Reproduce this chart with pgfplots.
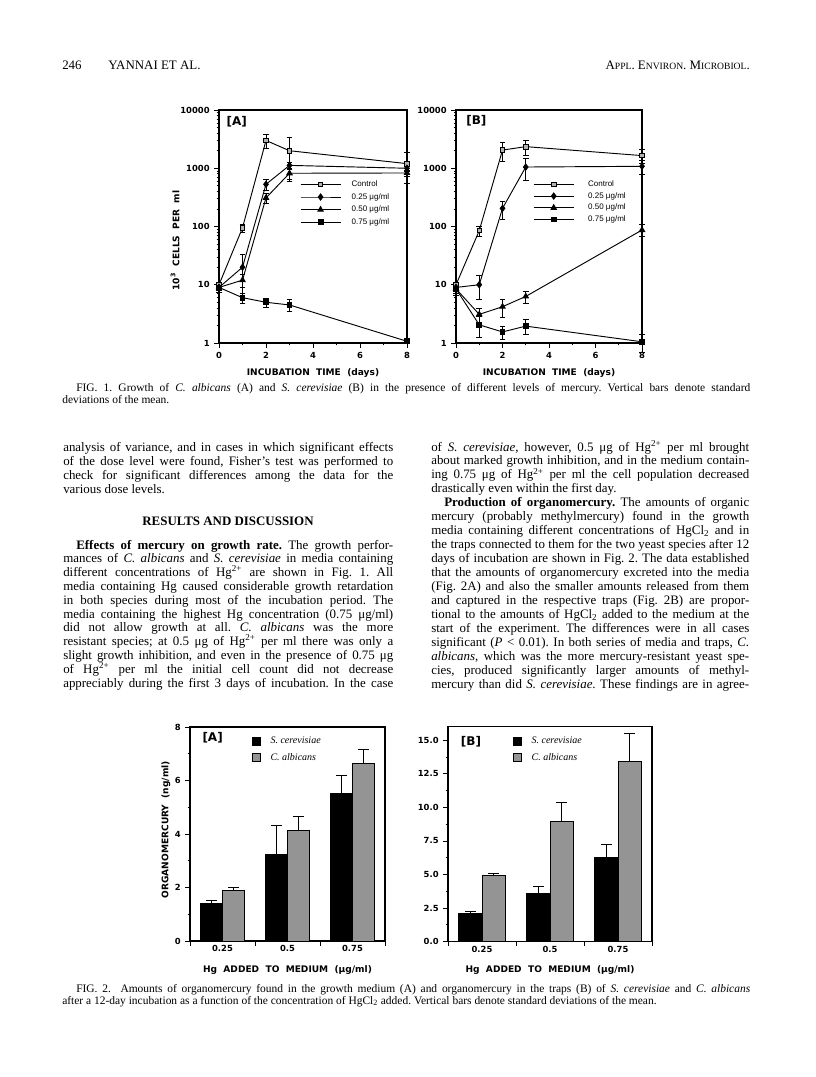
\documentclass[border=0pt]{standalone}
\usepackage{fontspec}
\setmainfont{Liberation Serif}
\newfontfamily\figsans{DejaVu Sans}
\newfontfamily\legsans{Liberation Sans}
\usepackage{pgfplots}
\pgfplotsset{compat=1.18}

\newcommand\bodyfont{\fontsize{9.7}{11}\selectfont\frenchspacing}
\newcommand\capfont{\fontsize{8.6}{10}\selectfont\frenchspacing}
\newcommand\tickfont{\figsans\bfseries\fontsize{6.3}{7}\selectfont}
\newcommand\labfont{\figsans\bfseries\fontsize{6.8}{8}\selectfont}
\newcommand\smc[1]{{\fontsize{7.2}{8}\selectfont #1}}

% one justified line of body text: left column, indented left, right column
\newcommand\LJ[2]{\node[body] at (63,#1) {\makebox[247.5pt][s]{#2}};}
\newcommand\LJi[2]{\node[body] at (76,#1) {\makebox[237.75pt][s]{#2}};}
\newcommand\RJ[2]{\node[body] at (431,#1) {\makebox[238.5pt][s]{#2}};}
\newcommand\RJi[2]{\node[body] at (444,#1) {\makebox[228.75pt][s]{#2}};}

\begin{document}
\begin{tikzpicture}
\fill[white] (0,0) rectangle (612pt,-807.75pt);
\path[use as bounding box] (0,0) rectangle (612pt,-807.75pt);

% ---------- FIG. 1A: C. albicans
\begin{axis}[at={(164.25pt,-257.25pt)}, anchor=south west,
  scale only axis, width=141pt, height=174.75pt,
  ymode=log, ymin=1, ymax=10000, xmin=0, xmax=8,
  axis line style={line width=0.8pt},
  xtick pos=bottom, ytick pos=left,
  tick align=outside, major tick length=3.5pt, minor tick length=1.8pt,
  tick style={black, line width=0.6pt},
  xtick={0,2,4,6,8}, xticklabels={0,2,4,6,8}, minor xtick={1,3,5,7},
  ytick={1,10,100,1000,10000}, yticklabels={1,10,100,1000,10000},
  minor ytick={2,3,4,5,6,7,8,9,20,30,40,50,60,70,80,90,200,300,400,500,600,700,800,900,2000,3000,4000,5000,6000,7000,8000,9000},
  ticklabel style={font=\tickfont},
  clip=false,
  legend image code/.code={\draw[mark repeat=2,mark phase=2,#1] plot coordinates {(0pt,0pt) (15pt,0pt) (30pt,0pt)};},
  legend cell align=left,
  legend style={at={(0.43,0.705)}, anchor=north west, draw=none, fill=none,
    inner sep=0pt, row sep=1.5pt, font=\legsans\fontsize{6}{7}\selectfont,
    nodes={inner ysep=1pt, text height=4.5pt, text depth=1.5pt},
    /tikz/every odd column/.append style={column sep=6pt}}]
\addplot[black, line width=0.7pt, mark=square*, mark size=1.7pt, mark options={fill=black!30, line width=0.6pt},
  error bars/.cd, y dir=both, y explicit, error bar style={black, line width=0.6pt}, error mark options={rotate=90, black, line width=0.6pt, mark size=2.2pt}]
  coordinates {(0,10) +- (0,1) (1,95) +- (0,15) (2,3000) +- (0,800) (3,2000) +- (0,1400) (8,1200) +- (0,650)};
\addplot[black, line width=0.7pt, mark=diamond*, mark size=2.3pt,
  error bars/.cd, y dir=both, y explicit, error bar style={black, line width=0.6pt}, error mark options={rotate=90, black, line width=0.6pt, mark size=2.2pt}]
  coordinates {(0,9) +- (0,1) (1,20) +- (0,13) (2,530) +- (0,120) (3,1120) +- (0,150) (8,1000) +- (0,100)};
\addplot[black, line width=0.7pt, mark=triangle*, mark size=2.3pt,
  error bars/.cd, y dir=both, y explicit, error bar style={black, line width=0.6pt}, error mark options={rotate=90, black, line width=0.6pt, mark size=2.2pt}]
  coordinates {(0,9) +- (0,1.5) (1,12) +- (0,3) (2,310) +- (0,60) (3,820) +- (0,180) (8,830) +- (0,100)};
\addplot[black, line width=0.7pt, mark=square*, mark size=1.8pt,
  error bars/.cd, y dir=both, y explicit, error bar style={black, line width=0.6pt}, error mark options={rotate=90, black, line width=0.6pt, mark size=2.2pt}]
  coordinates {(0,9) +- (0,1) (1,6) +- (0,1.2) (2,5) +- (0,0.9) (3,4.5) +- (0,1) (8,1.07) +- (0,0.05)};
\legend{Control,0.25 μg/ml,0.50 μg/ml,0.75 μg/ml}
\node[anchor=west, font=\figsans\bfseries\fontsize{9}{10}\selectfont] at (rel axis cs:0.015,0.948) {[A]};
\node[rotate=90, font=\labfont] at (rel axis cs:-0.234,0.44) {10\textsuperscript{3}\ \ CELLS\ \ PER\ \ ml};
\node[font=\labfont, yshift=-22.5pt] at (rel axis cs:0.5,0) {INCUBATION\ \ TIME\ \ (days)};
\end{axis}

% ---------- FIG. 1B: S. cerevisiae
\begin{axis}[at={(342pt,-257.25pt)}, anchor=south west,
  scale only axis, width=139.5pt, height=174.75pt,
  ymode=log, ymin=1, ymax=10000, xmin=0, xmax=8,
  axis line style={line width=0.8pt},
  xtick pos=bottom, ytick pos=left,
  tick align=outside, major tick length=3.5pt, minor tick length=1.8pt,
  tick style={black, line width=0.6pt},
  xtick={0,2,4,6,8}, xticklabels={0,2,4,6,8}, minor xtick={1,3,5,7},
  ytick={1,10,100,1000,10000}, yticklabels={1,10,100,1000,10000},
  minor ytick={2,3,4,5,6,7,8,9,20,30,40,50,60,70,80,90,200,300,400,500,600,700,800,900,2000,3000,4000,5000,6000,7000,8000,9000},
  ticklabel style={font=\tickfont},
  clip=false,
  legend image code/.code={\draw[mark repeat=2,mark phase=2,#1] plot coordinates {(0pt,0pt) (15pt,0pt) (30pt,0pt)};},
  legend cell align=left,
  legend style={at={(0.414,0.705)}, anchor=north west, draw=none, fill=none,
    inner sep=0pt, row sep=0.8pt, font=\legsans\fontsize{6}{7}\selectfont,
    nodes={inner ysep=1pt, text height=4.5pt, text depth=1.5pt},
    /tikz/every odd column/.append style={column sep=8.5pt}}]
\addplot[black, line width=0.7pt, mark=square*, mark size=1.7pt, mark options={fill=black!30, line width=0.6pt},
  error bars/.cd, y dir=both, y explicit, error bar style={black, line width=0.6pt}, error mark options={rotate=90, black, line width=0.6pt, mark size=2.2pt}]
  coordinates {(0,10) +- (0,1) (1,85) +- (0,17) (2,2050) +- (0,750) (3,2350) +- (0,700) (8,1650) +- (0,420)};
\addplot[black, line width=0.7pt, mark=diamond*, mark size=2.3pt,
  error bars/.cd, y dir=both, y explicit, error bar style={black, line width=0.6pt}, error mark options={rotate=90, black, line width=0.6pt, mark size=2.2pt}]
  coordinates {(0,9) +- (0,1) (1,10) +- (0,4.5) (2,205) +- (0,70) (3,1050) +- (0,430) (8,1080) +- (0,300)};
\addplot[black, line width=0.7pt, mark=triangle*, mark size=2.3pt,
  error bars/.cd, y dir=both, y explicit, error bar style={black, line width=0.6pt}, error mark options={rotate=90, black, line width=0.6pt, mark size=2.2pt}]
  coordinates {(0,8.5) +- (0,1.5) (1,3.1) +- (0,0.8) (2,4.2) +- (0,1.5) (3,6.3) +- (0,1.5) (8,87) +- (0,20)};
\addplot[black, line width=0.7pt, mark=square*, mark size=1.8pt,
  error bars/.cd, y dir=both, y explicit, error bar style={black, line width=0.6pt}, error mark options={rotate=90, black, line width=0.6pt, mark size=2.2pt}]
  coordinates {(0,8.5) +- (0,2) (1,2.05) +- (0,0.8) (2,1.55) +- (0,0.4) (3,1.95) +- (0,0.55) (8,1.05) +- (0,0.35)};
\legend{Control,0.25 μg/ml,0.50 μg/ml,0.75 μg/ml}
\node[anchor=west, font=\figsans\bfseries\fontsize{9}{10}\selectfont] at (rel axis cs:0.03,0.953) {[B]};
\node[font=\labfont, yshift=-22.5pt] at (rel axis cs:0.5,0) {INCUBATION\ \ TIME\ \ (days)};
\end{axis}

% ---------- FIG. 2A: organomercury in the growth medium
\begin{axis}[at={(142.5pt,-705.75pt)}, anchor=south west,
  scale only axis, width=146.25pt, height=160.5pt,
  xmin=0.5, xmax=3.5, ymin=0, ymax=8,
  ybar=0pt, bar width=0.345,
  axis line style={line width=0.8pt},
  tick align=outside, xtick pos=bottom, ytick pos=left,
  major tick length=3.5pt, minor tick length=1.8pt,
  tick style={black, line width=0.6pt},
  xtick={0.5,1.5,2.5,3.5}, xticklabels={},
  extra x ticks={1,2,3}, extra x tick labels={0.25,0.5,0.75},
  extra x tick style={major tick length=0pt},
  ytick={0,2,4,6,8}, yticklabels={0,2,4,6,8}, minor ytick={1,3,5,7},
  ticklabel style={font=\tickfont},
  clip=false,
  legend cell align=left,
  legend style={at={(0.318,0.963)}, anchor=north west, draw=none, fill=none,
    inner sep=0pt, row sep=3.5pt, font=\itshape\fontsize{7.5}{8}\selectfont,
    nodes={inner ysep=1pt, text height=5.5pt, text depth=1.5pt},
    /tikz/every odd column/.append style={column sep=5pt}}]
\addplot[fill=black, draw=black, line width=0.7pt,
  legend image code/.code={\filldraw[fill=black, draw=black] (0pt,-3pt) rectangle (6pt,3pt);},
  error bars/.cd, y dir=plus, y explicit, error bar style={black, line width=0.7pt}, error mark options={rotate=90, black, line width=0.7pt, mark size=4pt}]
  coordinates {(1,1.4) +- (0,0.13) (2,3.25) +- (0,1.08) (3,5.5) +- (0,0.69)};
\addplot[fill=black!42, draw=black, line width=0.7pt,
  legend image code/.code={\filldraw[fill=black!42, draw=black, line width=0.6pt] (0pt,-3pt) rectangle (6pt,3pt);},
  error bars/.cd, y dir=plus, y explicit, error bar style={black, line width=0.7pt}, error mark options={rotate=90, black, line width=0.7pt, mark size=4pt}]
  coordinates {(1,1.9) +- (0,0.1) (2,4.15) +- (0,0.52) (3,6.65) +- (0,0.52)};
\legend{S. cerevisiae,C. albicans}
\node[anchor=west, font=\figsans\bfseries\fontsize{9}{10}\selectfont] at (rel axis cs:0.04,0.949) {[A]};
\node[rotate=90, font=\labfont] at (rel axis cs:-0.123,0.52) {ORGANOMERCURY\ \ (ng/ml)};
\node[font=\labfont, yshift=-21.75pt] at (rel axis cs:0.5,0) {Hg\ \ ADDED\ \ TO\ \ MEDIUM\ \ (μg/ml)};
\end{axis}

% ---------- FIG. 2B: organomercury in the traps
\begin{axis}[at={(336pt,-706.1pt)}, anchor=south west,
  scale only axis, width=153pt, height=160.9pt,
  xmin=0.5, xmax=3.5, ymin=0, ymax=16,
  ybar=0pt, bar width=0.34,
  axis line style={line width=0.8pt},
  tick align=outside, xtick pos=bottom, ytick pos=left,
  major tick length=3.5pt, minor tick length=1.8pt,
  tick style={black, line width=0.6pt},
  xtick={0.5,1.5,2.5,3.5}, xticklabels={},
  extra x ticks={1,2,3}, extra x tick labels={0.25,0.5,0.75},
  extra x tick style={major tick length=0pt},
  ytick={0,2.5,5,7.5,10,12.5,15}, yticklabels={0.0,2.5,5.0,7.5,10.0,12.5,15.0},
  minor y tick num=1,
  ticklabel style={font=\tickfont},
  clip=false,
  legend cell align=left,
  legend style={at={(0.319,0.963)}, anchor=north west, draw=none, fill=none,
    inner sep=0pt, row sep=3.5pt, font=\itshape\fontsize{7.5}{8}\selectfont,
    nodes={inner ysep=1pt, text height=5.5pt, text depth=1.5pt},
    /tikz/every odd column/.append style={column sep=5pt}}]
\addplot[fill=black, draw=black, line width=0.7pt,
  legend image code/.code={\filldraw[fill=black, draw=black] (0pt,-3pt) rectangle (6pt,3pt);},
  error bars/.cd, y dir=plus, y explicit, error bar style={black, line width=0.7pt}, error mark options={rotate=90, black, line width=0.7pt, mark size=4pt}]
  coordinates {(1,2.1) +- (0,0.12) (2,3.6) +- (0,0.5) (3,6.3) +- (0,0.95)};
\addplot[fill=black!42, draw=black, line width=0.7pt,
  legend image code/.code={\filldraw[fill=black!42, draw=black, line width=0.6pt] (0pt,-3pt) rectangle (6pt,3pt);},
  error bars/.cd, y dir=plus, y explicit, error bar style={black, line width=0.7pt}, error mark options={rotate=90, black, line width=0.7pt, mark size=4pt}]
  coordinates {(1,4.95) +- (0,0.15) (2,8.95) +- (0,1.45) (3,13.4) +- (0,2.15)};
\legend{S. cerevisiae,C. albicans}
\node[anchor=west, font=\figsans\bfseries\fontsize{9}{10}\selectfont] at (rel axis cs:0.04,0.93) {[B]};
\node[font=\labfont, yshift=-21.75pt] at (rel axis cs:0.5,0) {Hg\ \ ADDED\ \ TO\ \ MEDIUM\ \ (μg/ml)};
\end{axis}

% ---------- page text, in pixel coordinates of the scan
\begin{scope}[x=0.75pt, y=-0.75pt, body/.style={anchor=base west, inner sep=0pt, font=\bodyfont}]
\node[body] at (62,70) {246};
\node[body] at (108,70) {YANNAI ET AL.};
\node[body, anchor=base east] at (750,70) {A\smc{PPL}. E\smc{NVIRON}. M\smc{ICROBIOL}.};

\node[anchor=base west, inner sep=0pt, font=\capfont] at (76,391) {\makebox[505.5pt][s]{FIG. 1. Growth of \textit{C. albicans} (A) and \textit{S. cerevisiae} (B) in the presence of different levels of mercury. Vertical bars denote standard}};
\node[anchor=base west, inner sep=0pt, font=\capfont] at (62,403) {deviations of the mean.};

\LJ{451}{analysis of variance, and in cases in which significant effects}
\LJ{465}{of the dose level were found, Fisher's test was performed to}
\LJ{479}{check for significant differences among the data for the}
\node[body] at (63,493) {various dose levels.};
\node[anchor=base, inner sep=0pt, font=\bodyfont\bfseries] at (228,525) {RESULTS AND DISCUSSION};
\LJi{549}{\textbf{Effects of mercury on growth rate.} The growth perfor-}
\LJ{562.8}{mances of \textit{C. albicans} and \textit{S. cerevisiae} in media containing}
\LJ{576.6}{different concentrations of Hg\textsuperscript{2+} are shown in Fig. 1. All}
\LJ{590.4}{media containing Hg caused considerable growth retardation}
\LJ{604.2}{in both species during most of the incubation period. The}
\LJ{618}{media containing the highest Hg concentration (0.75 μg/ml)}
\LJ{631.8}{did not allow growth at all. \textit{C. albicans} was the more}
\LJ{645.6}{resistant species; at 0.5 μg of Hg\textsuperscript{2+} per ml there was only a}
\LJ{659.4}{slight growth inhibition, and even in the presence of 0.75 μg}
\LJ{673.2}{of Hg\textsuperscript{2+} per ml the initial cell count did not decrease}
\LJ{687}{appreciably during the first 3 days of incubation. In the case}

\RJ{451}{of \textit{S. cerevisiae}, however, 0.5 μg of Hg\textsuperscript{2+} per ml brought}
\RJ{464.9}{about marked growth inhibition, and in the medium contain-}
\RJ{478.9}{ing 0.75 μg of Hg\textsuperscript{2+} per ml the cell population decreased}
\node[body] at (431,492.8) {drastically even within the first day.};
\RJi{506.8}{\textbf{Production of organomercury.} The amounts of organic}
\RJ{520.7}{mercury (probably methylmercury) found in the growth}
\RJ{534.6}{media containing different concentrations of HgCl\textsubscript{2} and in}
\RJ{548.6}{the traps connected to them for the two yeast species after 12}
\RJ{562.5}{days of incubation are shown in Fig. 2. The data established}
\RJ{576.5}{that the amounts of organomercury excreted into the media}
\RJ{590.4}{(Fig. 2A) and also the smaller amounts released from them}
\RJ{604.3}{and captured in the respective traps (Fig. 2B) are propor-}
\RJ{618.3}{tional to the amounts of HgCl\textsubscript{2} added to the medium at the}
\RJ{632.2}{start of the experiment. The differences were in all cases}
\RJ{646.2}{significant (\textit{P} < 0.01). In both series of media and traps, \textit{C.}}
\RJ{660.1}{\textit{albicans}, which was the more mercury-resistant yeast spe-}
\RJ{674}{cies, produced significantly larger amounts of methyl-}
\RJ{688}{mercury than did \textit{S. cerevisiae}. These findings are in agree-}

\node[anchor=base west, inner sep=0pt, font=\capfont] at (76,992) {\makebox[505.5pt][s]{FIG. 2. \ Amounts of organomercury found in the growth medium (A) and organomercury in the traps (B) of \textit{S. cerevisiae} and \textit{C. albicans}}};
\node[anchor=base west, inner sep=0pt, font=\capfont] at (62,1004) {after a 12-day incubation as a function of the concentration of HgCl\textsubscript{2} added. Vertical bars denote standard deviations of the mean.};
\end{scope}
\end{tikzpicture}
\end{document}
